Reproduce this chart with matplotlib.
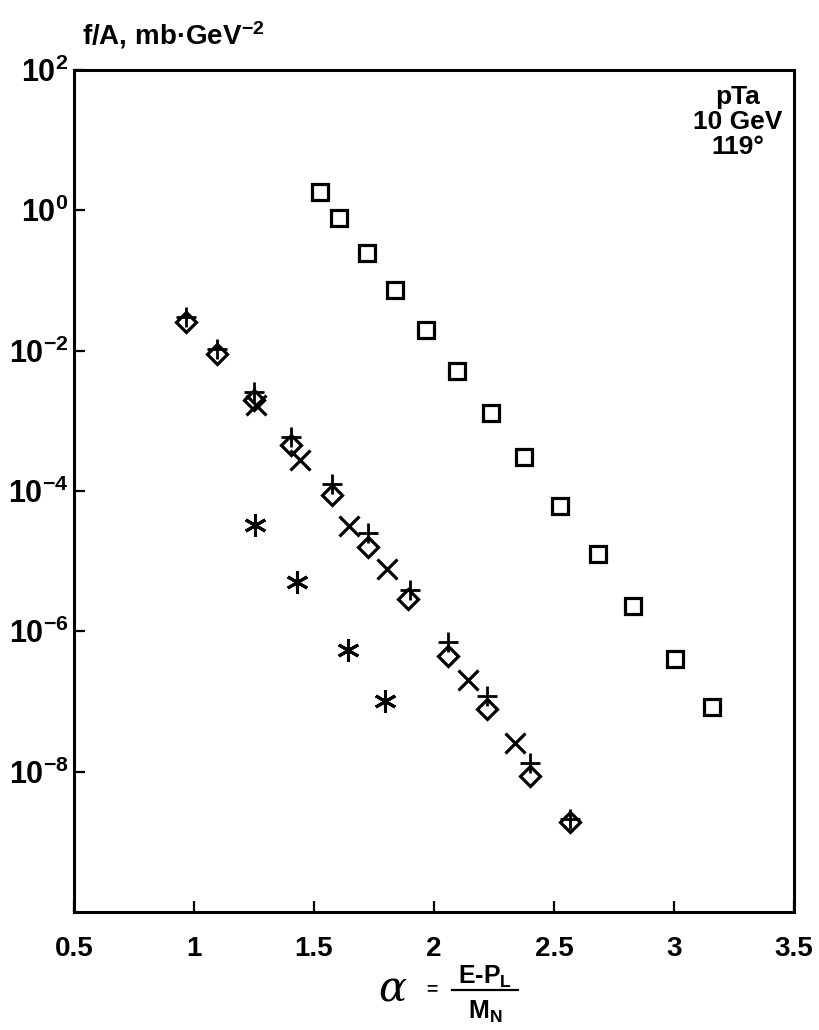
import matplotlib.pyplot as plt
from matplotlib.lines import Line2D
from matplotlib.ticker import NullLocator

plt.rcParams['font.family'] = ['Liberation Sans', 'DejaVu Sans']
plt.rcParams['font.weight'] = 'bold'
plt.rcParams['mathtext.fontset'] = 'custom'
plt.rcParams['mathtext.rm'] = 'Liberation Sans:bold'
plt.rcParams['mathtext.bf'] = 'Liberation Sans:bold'
plt.rcParams['mathtext.default'] = 'bf'

# invariant cross sections f/A vs alpha, pTa at 10 GeV, 119 deg
sq_x = [1.523, 1.603, 1.721, 1.839, 1.967, 2.096, 2.237, 2.375, 2.525, 2.683, 2.829, 3.004, 3.158]
sq_y = [1.85, 0.79, 0.246, 0.0738, 0.0199, 5.19e-3, 1.31e-3, 3.10e-4, 6.2e-5, 1.25e-5, 2.27e-6, 3.99e-7, 8.28e-8]

dia_x = [0.967, 1.096, 1.250, 1.404, 1.575, 1.725, 1.892, 2.058, 2.221, 2.400, 2.567]
dia_y = [0.0259, 9.06e-3, 2.0e-3, 4.59e-4, 8.9e-5, 1.57e-5, 2.86e-6, 4.41e-7, 7.76e-8, 8.63e-9, 1.91e-9]

plus_x = [0.967, 1.096, 1.250, 1.404, 1.575, 1.725, 1.900, 2.058, 2.221, 2.400, 2.567]
plus_y = [0.0305, 0.01067, 2.61e-3, 5.97e-4, 1.24e-4, 2.56e-5, 3.84e-6, 6.97e-7, 1.19e-7, 1.32e-8, 2.11e-9]

cross_x = [1.258, 1.442, 1.646, 1.804, 2.142, 2.338]
cross_y = [1.70e-3, 2.81e-4, 3.13e-5, 7.63e-6, 2.0e-7, 2.55e-8]

star_x = [1.254, 1.429, 1.642, 1.796]
star_y = [3.33e-5, 4.99e-6, 5.37e-7, 1.01e-7]

x_ticks = [0.5, 1, 1.5, 2, 2.5, 3, 3.5]
x_labels = ['0.5', '1', '1.5', '2', '2.5', '3', '3.5']
y_ticks = [1e2, 1e0, 1e-2, 1e-4, 1e-6, 1e-8]
y_labels = ['$10^{2}$', '$10^{0}$', '$10^{-2}$', '$10^{-4}$', '$10^{-6}$', '$10^{-8}$']

W, H = 820, 1030
fig = plt.figure(figsize=(W / 100, H / 100), dpi=100)
ax = fig.add_axes([74 / W, 1 - 912 / H, 720 / W, 842 / H])
ax.set_yscale('log')
ax.set_xlim(0.5, 3.5)
ax.set_ylim(1e-10, 1e2)

ax.plot(sq_x, sq_y, 's', ms=11.5, mfc='none', mec='k', mew=2.3)
ax.plot(dia_x, dia_y, 'D', ms=10, mfc='none', mec='k', mew=2.3)
ax.plot(plus_x, plus_y, '+', ms=15, mec='k', mew=2.0)
ax.plot(cross_x, cross_y, 'x', ms=14, mec='k', mew=2.3)
ax.plot(star_x, star_y, marker=(6, 2, 0), ls='none', ms=16, mec='k', mew=2.2)

ax.set_xticks(x_ticks)
ax.set_xticklabels(x_labels)
ax.set_yticks(y_ticks)
ax.set_yticklabels(y_labels)
ax.yaxis.set_minor_locator(NullLocator())
ax.tick_params(axis='x', direction='in', length=8, width=1.6, pad=17, labelsize=20)
ax.tick_params(axis='y', direction='in', length=8, width=1.6, pad=4, labelsize=22)
for s in ax.spines.values():
    s.set_linewidth(2.2)

fig.text(82 / W, 1 - 35 / H, 'f/A, mb·GeV$^{-2}$', fontsize=20, va='center', ha='left')

for txt, yy in [('pTa', 97), ('10 GeV', 122), ('119°', 147)]:
    fig.text(738 / W, 1 - yy / H, txt, fontsize=19, ha='center', va='center')

# x-axis label: alpha = (E - P_L) / M_N
fig.text(392 / W, 1 - 990 / H, 'α', fontsize=30, family='DejaVu Serif', style='italic',
         weight='normal', ha='center', va='center')
fig.text(432 / W, 1 - 990 / H, '=', fontsize=14, ha='center', va='center')
fig.text(485 / W, 1 - 977 / H, 'E-P$_{L}$', fontsize=18, ha='center', va='center')
fig.add_artist(Line2D([452 / W, 518 / W], [1 - 990 / H, 1 - 990 / H], color='k', lw=1.6))
fig.text(485 / W, 1 - 1012 / H, 'M$_{N}$', fontsize=18, ha='center', va='center')

fig.savefig('out.png', dpi=100)
